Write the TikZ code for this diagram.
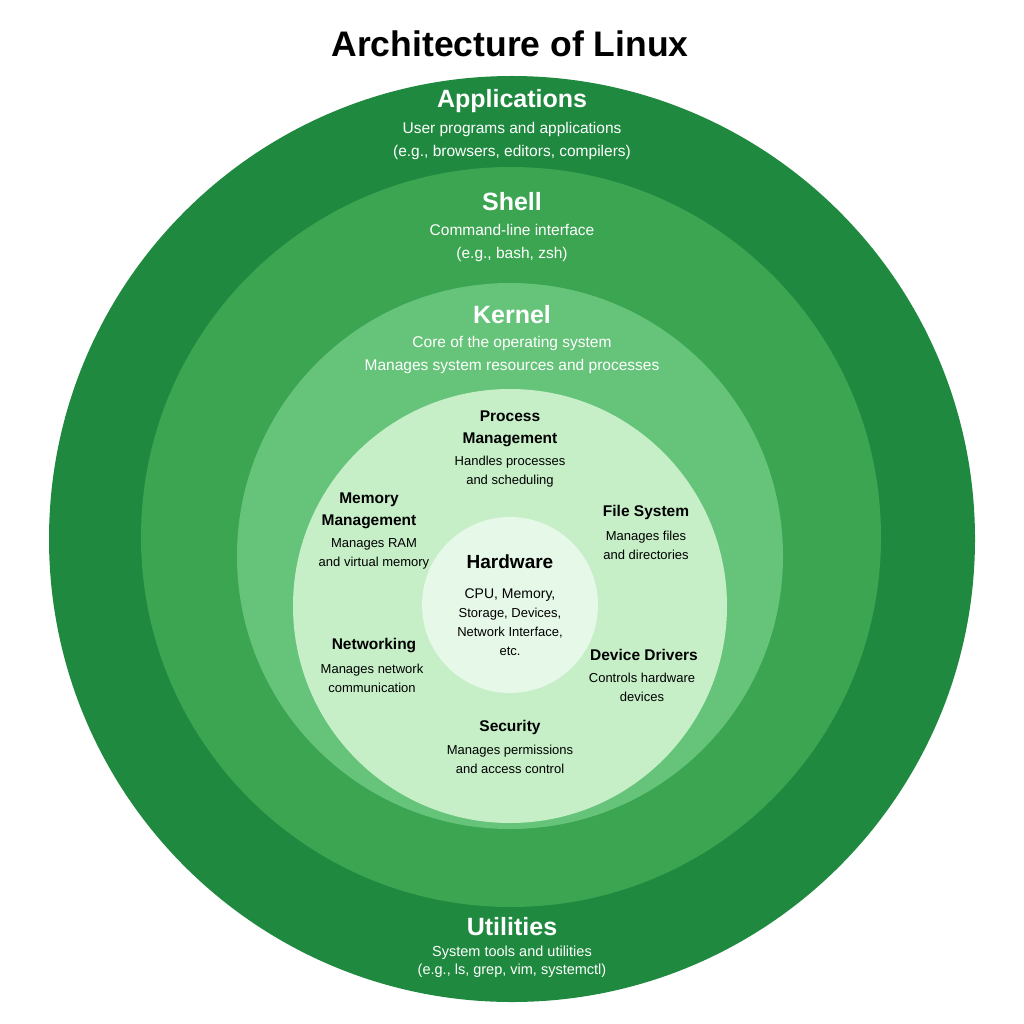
\documentclass[tikz,border=0pt]{standalone}
\usepackage{fontspec}
\setmainfont{Liberation Sans}
\definecolor{cA}{HTML}{1F8A3F}
\definecolor{cS}{HTML}{3BA552}
\definecolor{cK}{HTML}{66C47A}
\definecolor{cI}{HTML}{C6EFC8}
\definecolor{cH}{HTML}{E6F8E7}
\begin{document}
\begin{tikzpicture}[x=1pt,y=-1pt,
  head/.style={font=\fontsize{25}{30}\selectfont\bfseries,text=white},
  desc/.style={font=\fontsize{15.5}{23}\selectfont,text=white,align=center},
  ihead/.style={font=\fontsize{15.5}{22}\selectfont\bfseries,align=center},
  idesc/.style={font=\fontsize{13}{19}\selectfont,align=center}]
\useasboundingbox (0,0) rectangle (1024,1024);
\fill[white] (0,0) rectangle (1024,1024);
\fill[cA] (512,539) circle (463);
\fill[cS] (511,537) circle (370);
\fill[cK] (510,556) circle (273);
\fill[cI] (510,606) circle (217);
\fill[cH] (510,605) circle (88);
\node (title) at (510,44) {\fontsize{35.5}{40}\selectfont\bfseries Architecture of Linux};
\node[head] (app) at (512,101) {Applications};
\node[desc] (appd) at (512,141) {User programs and applications\\(e.g., browsers, editors, compilers)};
\node[head] (sh) at (512,202) {Shell};
\node[desc] (shd) at (512,243) {Command-line interface\\(e.g., bash, zsh)};
\node[head] (ker) at (512,315) {Kernel};
\node[desc] (kerd) at (512,355) {Core of the operating system\\Manages system resources and processes};
\node[ihead] (pm) at (510,429) {Process\\Management};
\node[idesc] (pmd) at (510,472) {Handles processes\\and scheduling};
\node[ihead] (mm) at (369,511) {Memory\\Management};
\node[idesc] (mmd) at (374,554) {Manages RAM\\and virtual memory};
\node[ihead] (fs) at (646,512) {File System};
\node[idesc] (fsd) at (646,545) {Manages files\\and directories};
\node[ihead] (hw) at (510,562) {\fontsize{19}{22}\selectfont Hardware};
\node[idesc] (hwd) at (510,622) {\fontsize{14}{21}\selectfont CPU, Memory,\\Storage, Devices,\\Network Interface,\\etc.};
\node[ihead] (nw) at (374,646) {Networking};
\node[idesc] (nwd) at (372,678) {Manages network\\communication};
\node[ihead] (dd) at (644,655) {Device Drivers};
\node[idesc] (ddd) at (642,687) {Controls hardware\\devices};
\node[ihead] (sec) at (510,727) {Security};
\node[idesc] (secd) at (510,759) {Manages permissions\\and access control};
\node[head] (ut) at (512,927) {Utilities};
\node[desc,font=\fontsize{14.5}{18}\selectfont] (utd) at (512,962) {System tools and utilities\\(e.g., ls, grep, vim, systemctl)};
\end{tikzpicture}
\end{document}
